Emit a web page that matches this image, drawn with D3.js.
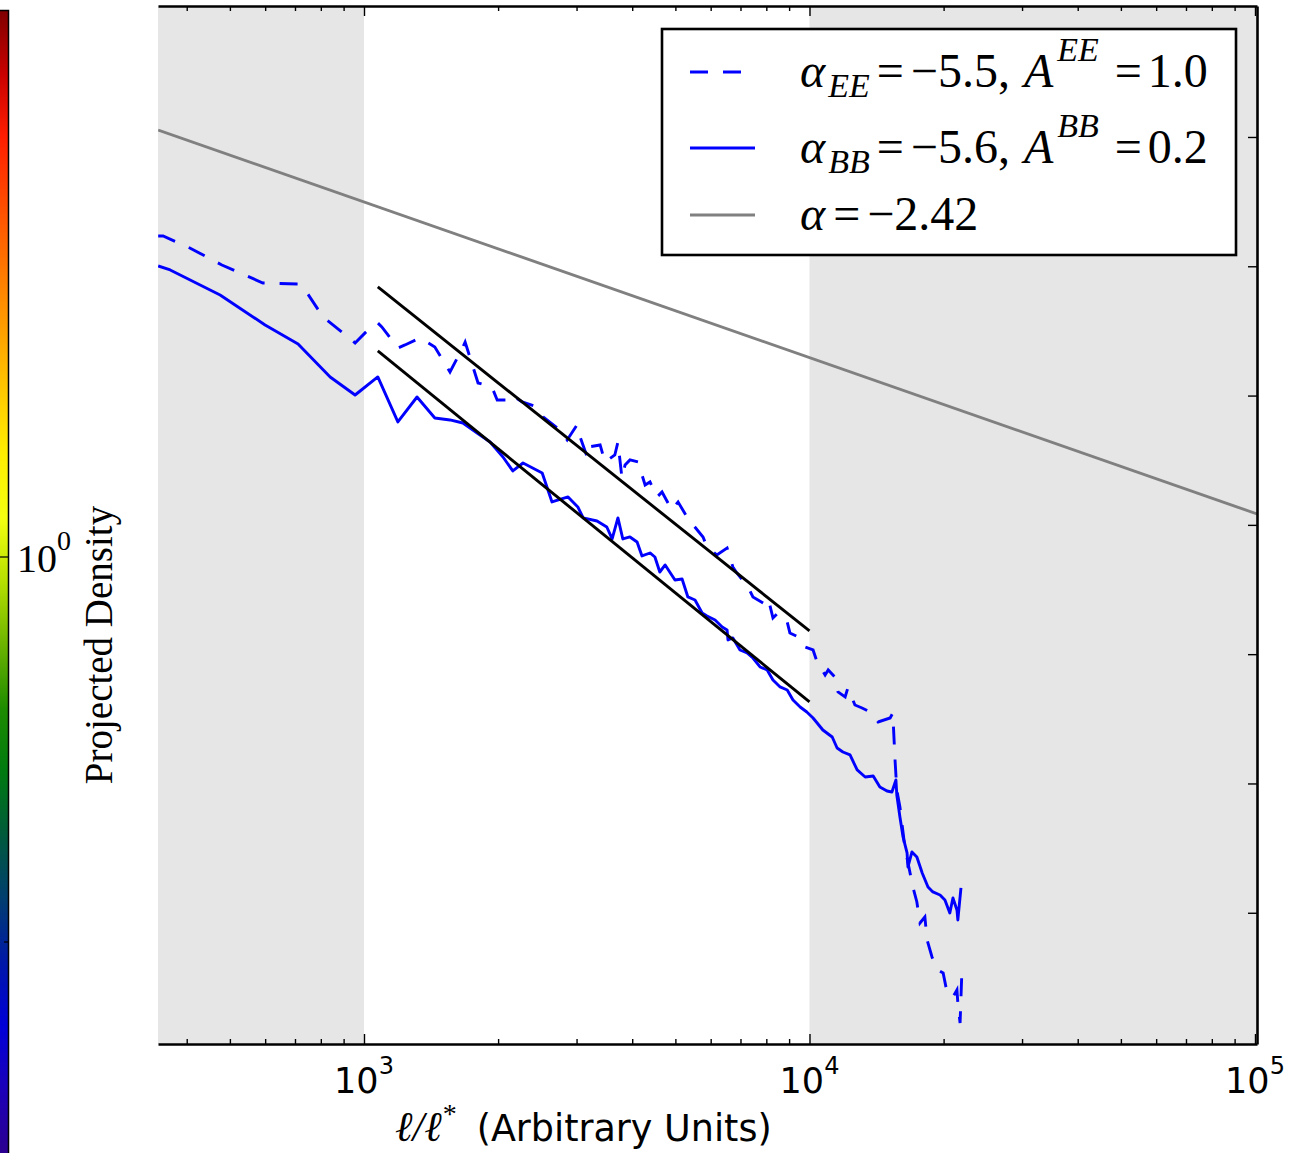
<!DOCTYPE html>
<html>
<head>
<meta charset="utf-8">
<script src="https://cdn.jsdelivr.net/npm/d3@7"></script>
<style>
  body { margin: 0; background: #fff; }
  svg { display: block; }
</style>
</head>
<body>
<div id="chart"></div>
<script>
const width = 1294;
const height = 1153;

// ----- data (log10 values) ----- //
// solid curve, BB
const logEllBB = [2.538,2.565,2.677,2.778,2.852,2.924,2.980,3.031,3.076,3.119,
  3.159,3.193,3.222,3.254,3.283,3.312,3.334,3.357,3.400,3.422,
  3.458,3.480,3.492,3.523,3.545,3.557,3.570,3.581,3.597,3.613,
  3.624,3.642,3.653,3.664,3.676,3.698,3.714,3.727,3.743,3.759,
  3.770,3.788,3.804,3.815,3.817,3.828,3.844,3.860,3.873,3.889,
  3.905,3.918,3.934,3.950,3.963,3.979,3.994,4.008,4.030,4.051,
  4.062,4.075,4.091,4.107,4.125,4.143,4.158,4.174,4.185,4.194,
  4.196,4.203,4.210,4.219,4.221,4.230,4.241,4.253,4.266,4.277,
  4.293,4.304,4.315,4.322,4.331,4.333,4.340];
const logRhoBB = [-1.995,-2.057,-2.444,-2.908,-3.202,-3.712,-3.991,-3.712,-4.408,-4.022,
  -4.347,-4.377,-4.424,-4.579,-4.718,-4.950,-5.166,-5.043,-5.197,-5.646,
  -5.568,-5.723,-5.893,-5.940,-6.033,-6.218,-5.893,-6.218,-6.187,-6.265,
  -6.481,-6.435,-6.497,-6.729,-6.620,-6.852,-6.837,-7.115,-7.162,-7.363,
  -7.409,-7.471,-7.579,-7.626,-7.780,-7.749,-7.935,-7.981,-8.059,-8.198,
  -8.244,-8.399,-8.507,-8.554,-8.708,-8.817,-8.894,-8.987,-9.173,-9.281,
  -9.451,-9.513,-9.559,-9.791,-9.900,-9.884,-10.054,-10.116,-10.132,-9.946,
  -10.178,-10.518,-10.828,-11.075,-11.292,-11.060,-11.137,-11.384,-11.601,-11.678,
  -11.725,-11.802,-12.003,-11.771,-11.957,-12.111,-11.616];

// dashed curve, EE
const logEllEE = [2.538,2.549,2.609,2.681,2.773,2.852,2.868,2.908,2.953,2.980,
  3.009,3.031,3.040,3.076,3.092,3.126,3.159,3.193,3.220,3.227,
  3.256,3.287,3.299,3.323,3.332,3.355,3.388,3.402,3.440,3.456,
  3.478,3.485,3.501,3.503,3.530,3.541,3.563,3.570,3.579,3.586,
  3.597,3.615,3.631,3.642,3.658,3.669,3.691,3.705,3.725,3.739,
  3.761,3.770,3.792,3.815,3.828,3.837,3.862,3.873,3.896,3.907,
  3.918,3.929,3.950,3.956,3.979,3.990,4.008,4.017,4.035,4.042,
  4.057,4.064,4.080,4.086,4.102,4.118,4.136,4.154,4.181,4.187,
  4.192,4.196,4.203,4.214,4.232,4.241,4.248,4.259,4.264,4.275,
  4.288,4.300,4.309,4.322,4.331,4.333,4.338,4.342];
const logRhoEE = [-1.531,-1.531,-1.717,-1.980,-2.258,-2.274,-2.367,-2.784,-3.032,-3.186,
  -2.985,-2.877,-2.939,-3.264,-3.217,-3.109,-3.248,-3.635,-3.279,-3.171,
  -3.805,-3.867,-4.068,-4.068,-3.991,-4.099,-4.176,-4.331,-4.532,-4.687,
  -4.455,-4.640,-4.950,-4.795,-4.764,-5.027,-4.919,-4.718,-5.275,-5.074,
  -4.996,-5.027,-5.383,-5.336,-5.568,-5.491,-5.770,-5.646,-5.878,-6.002,
  -6.187,-6.342,-6.466,-6.357,-6.651,-6.744,-6.961,-7.115,-7.208,-7.131,
  -7.440,-7.363,-7.502,-7.672,-7.749,-7.889,-7.935,-8.121,-8.322,-8.244,
  -8.353,-8.585,-8.662,-8.523,-8.786,-8.832,-8.894,-9.049,-8.987,-8.910,
  -9.637,-10.101,-10.364,-10.982,-11.601,-11.833,-12.158,-12.065,-12.421,-12.684,
  -12.885,-12.931,-13.241,-13.302,-13.194,-13.395,-13.705,-12.916];

// straight power-law fits, two end points each
const fitLogEll = [3.031, 4.0];
const fitLogRhoEE = [-2.320, -7.641];
const fitLogRhoBB = [-3.310, -8.739];
// grey reference slope
const refLogEll = [2.538, 5.0045];
const refLogRho = [0.108, -5.831];

// axis setup
const xDomainLog = [2.5376, 5.0045];
const yDomainLog = [-14.03, 2.026];
const shadeEdges = [1e3, 1e4];
const xMajorTicks = [1e3, 1e4, 1e5];
const xMajorExp = ['3', '4', '5'];
const yTicks = [1, 1e-2, 1e-4, 1e-6, 1e-8, 1e-10, 1e-12];

// legend text
const legendSub = ['EE', 'BB', ''];
const legendAlpha = ['\u22125.5', '\u22125.6', '\u22122.42'];
const legendAmp = ['1.0', '0.2', ''];

// colour bar (spectral look)
const cbarColors = ['#7f0000','#c80000','#ff1e00','#ff4a00','#ff7400','#ff9e00','#ffc800','#ffee00','#f4ff10','#b6df00','#6cb400','#1e8c00','#007a10','#005a3c','#003e70','#0018a8','#0000d8','#1c00b8','#2c0090'];

const plot = { left: 158, right: 1257, top: 6, bottom: 1044 };
const serif = '"Liberation Serif", "DejaVu Serif", serif';
const sans = '"DejaVu Sans", sans-serif';
const lw = 2.9;

const svg = d3.select('#chart').append('svg')
  .attr('width', width)
  .attr('height', height);

const x = d3.scaleLog()
  .domain(xDomainLog.map(v => Math.pow(10, v)))
  .range([plot.left, plot.right]);

const y = d3.scaleLog()
  .domain(yDomainLog.map(v => Math.pow(10, v)))
  .range([plot.bottom, plot.top]);

function toPoints(logX, logY) {
  return logX.map((v, i) => [Math.pow(10, v), Math.pow(10, logY[i])]);
}

// ----- colour bar on the far left ----- //
function drawColorbar() {
  const defs = svg.append('defs');
  const grad = defs.append('linearGradient')
    .attr('id', 'cbar')
    .attr('x1', 0).attr('y1', 0).attr('x2', 0).attr('y2', 1);
  grad.selectAll('stop').data(cbarColors)
    .enter().append('stop')
    .attr('offset', (d, i) => i / (cbarColors.length - 1))
    .attr('stop-color', d => d);

  svg.append('rect')
    .attr('x', 0).attr('y', 10)
    .attr('width', 8).attr('height', height - 10)
    .attr('fill', 'url(#cbar)');
  svg.append('path')
    .attr('d', `M0,10.5H8.5V${height}`)
    .attr('fill', 'none').attr('stroke', '#000').attr('stroke-width', 1.5);
  svg.append('line').attr('x1', 0).attr('x2', 8).attr('y1', 557).attr('y2', 557)
    .attr('stroke', '#000').attr('stroke-width', 1.2);
  svg.append('line').attr('x1', 4).attr('x2', 8).attr('y1', 942).attr('y2', 942)
    .attr('stroke', '#000').attr('stroke-width', 1.2);

  const lab = svg.append('text')
    .attr('x', 17).attr('y', 572)
    .attr('font-family', serif).attr('font-size', 40);
  lab.append('tspan').text('10');
  lab.append('tspan').attr('font-size', 28).attr('dy', -22).text('0');
}

// ----- main panel ----- //
function drawPanel() {
  const xs = x.domain();

  // shaded spans outside the fit range
  svg.append('rect')
    .attr('x', x(xs[0])).attr('y', plot.top)
    .attr('width', x(shadeEdges[0]) - x(xs[0]))
    .attr('height', plot.bottom - plot.top)
    .attr('fill', '#e6e6e6');
  svg.append('rect')
    .attr('x', x(shadeEdges[1])).attr('y', plot.top)
    .attr('width', x(xs[1]) - x(shadeEdges[1]))
    .attr('height', plot.bottom - plot.top)
    .attr('fill', '#e6e6e6');

  svg.append('clipPath').attr('id', 'clip')
    .append('rect')
    .attr('x', plot.left).attr('y', plot.top)
    .attr('width', plot.right - plot.left)
    .attr('height', plot.bottom - plot.top);

  const line = d3.line().x(d => x(d[0])).y(d => y(d[1]));
  const g = svg.append('g').attr('clip-path', 'url(#clip)');

  g.append('path').datum(toPoints(refLogEll, refLogRho))
    .attr('d', line).attr('fill', 'none')
    .attr('stroke', '#808080').attr('stroke-width', lw);

  g.append('path').datum(toPoints(logEllEE, logRhoEE))
    .attr('d', line).attr('fill', 'none')
    .attr('stroke', '#0000ff').attr('stroke-width', lw)
    .attr('stroke-dasharray', '18,15');

  g.append('path').datum(toPoints(logEllBB, logRhoBB))
    .attr('d', line).attr('fill', 'none')
    .attr('stroke', '#0000ff').attr('stroke-width', lw)
    .attr('stroke-linejoin', 'round');

  [fitLogRhoEE, fitLogRhoBB].forEach(fit => {
    g.append('path').datum(toPoints(fitLogEll, fit))
      .attr('d', line).attr('fill', 'none')
      .attr('stroke', '#000').attr('stroke-width', lw);
  });
}

// ----- axes with inward ticks ----- //
function drawAxes() {
  const xs = x.domain();
  const xMinor = [];
  [100, 1000, 10000].forEach(dec => {
    for (let m = 2; m <= 9; m++) {
      const v = m * dec;
      if (v > xs[0] && v < xs[1]) xMinor.push(v);
    }
  });

  function styleAxis(sel, remove) {
    sel.selectAll('.tick line').attr('stroke', '#000').attr('stroke-width', 1.4);
    sel.selectAll('.tick text').remove();
    if (remove) sel.select('.domain').remove();
    else sel.select('.domain').attr('stroke', '#000').attr('stroke-width', 2.6);
  }

  // bottom
  svg.append('g').attr('transform', `translate(0,${plot.bottom})`)
    .call(d3.axisBottom(x).tickValues(xMinor).tickSize(-5).tickSizeOuter(0))
    .call(s => styleAxis(s, true));
  svg.append('g').attr('transform', `translate(0,${plot.bottom})`)
    .call(d3.axisBottom(x).tickValues(xMajorTicks).tickSize(-10).tickSizeOuter(0))
    .call(s => styleAxis(s, false));

  // top
  svg.append('g').attr('transform', `translate(0,${plot.top})`)
    .call(d3.axisTop(x).tickValues(xMinor).tickSize(-5).tickSizeOuter(0))
    .call(s => styleAxis(s, true));
  svg.append('g').attr('transform', `translate(0,${plot.top})`)
    .call(d3.axisTop(x).tickValues(xMajorTicks).tickSize(-10).tickSizeOuter(0))
    .call(s => styleAxis(s, false));

  // right
  svg.append('g').attr('transform', `translate(${plot.right},0)`)
    .call(d3.axisRight(y).tickValues(yTicks).tickSize(-9).tickSizeOuter(0))
    .call(s => styleAxis(s, false));

  // x tick labels 10^n
  xMajorTicks.forEach((v, i) => {
    const t = svg.append('text')
      .attr('x', x(v)).attr('y', 1093)
      .attr('text-anchor', 'middle')
      .attr('font-family', sans).attr('font-size', 35);
    t.append('tspan').text('10');
    t.append('tspan').attr('font-size', 24).attr('dy', -19).text(xMajorExp[i]);
  });

  // x label
  const xl = svg.append('text')
    .attr('x', 395).attr('y', 1141)
    .attr('font-family', serif).attr('font-size', 42);
  xl.append('tspan').attr('font-style', 'italic').text('\u2113/\u2113');
  xl.append('tspan').attr('font-size', 28).attr('dy', -18).attr('dx', 1).text('*');
  xl.append('tspan').attr('dy', 18).attr('dx', 20)
    .attr('font-family', sans).attr('font-size', 36.5)
    .text('(Arbitrary Units)');

  // y label
  svg.append('text')
    .attr('transform', 'translate(112,645) rotate(-90)')
    .attr('text-anchor', 'middle')
    .attr('font-family', serif).attr('font-size', 39)
    .text('Projected Density');
}

// ----- legend box ----- //
function drawLegend() {
  const g = svg.append('g');
  g.append('rect')
    .attr('x', 662).attr('y', 29)
    .attr('width', 574).attr('height', 226)
    .attr('fill', '#fff').attr('stroke', '#000').attr('stroke-width', 2.6);

  const rows = [72, 148, 215];
  const strokes = ['#0000ff', '#0000ff', '#808080'];
  const dashes = ['18,15', null, null];

  rows.forEach((ry, i) => {
    g.append('line')
      .attr('x1', 690).attr('x2', 755).attr('y1', ry).attr('y2', ry)
      .attr('stroke', strokes[i]).attr('stroke-width', lw)
      .attr('stroke-dasharray', dashes[i]);

    const t = g.append('text')
      .attr('x', 800).attr('y', ry + 15)
      .attr('font-family', serif).attr('font-size', 48);
    t.append('tspan').attr('font-style', 'italic').text('\u03b1');
    if (legendSub[i]) {
      t.append('tspan').attr('font-style', 'italic').attr('font-size', 34)
        .attr('dy', 10).attr('dx', 3).text(legendSub[i]);
      t.append('tspan').attr('dy', -10).attr('dx', 7).text('=');
    } else {
      t.append('tspan').attr('dx', 8).text('=');
    }
    t.append('tspan').attr('dx', 7).text(legendAlpha[i] + (legendAmp[i] ? ',' : ''));
    if (legendAmp[i]) {
      t.append('tspan').attr('dx', 14).attr('font-style', 'italic').text('A');
      t.append('tspan').attr('font-style', 'italic').attr('font-size', 34)
        .attr('dy', -26).attr('dx', 4).text(legendSub[i]);
      t.append('tspan').attr('dy', 26).attr('dx', 16).text('=');
      t.append('tspan').attr('dx', 6).text(legendAmp[i]);
    }
  });
}

drawColorbar();
drawPanel();
drawAxes();
drawLegend();
</script>
</body>
</html>
